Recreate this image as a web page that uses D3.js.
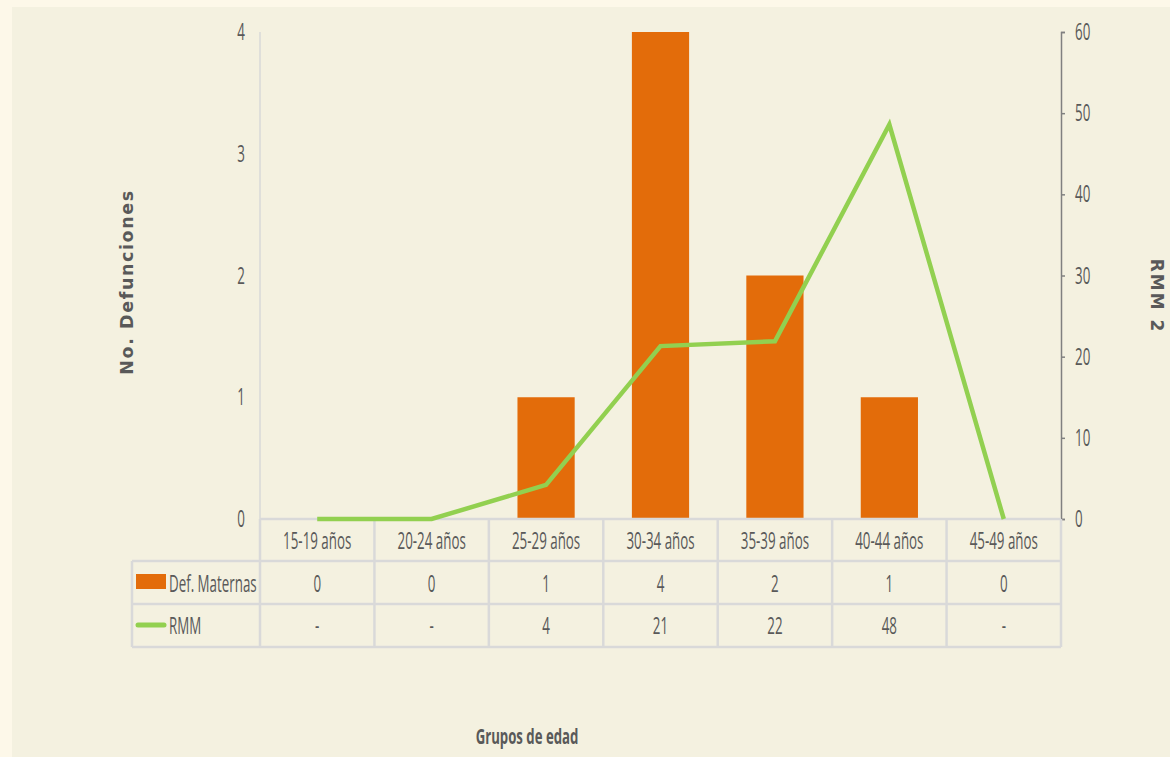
<!DOCTYPE html>
<html>
<head>
<meta charset="utf-8">
<script src="https://cdn.jsdelivr.net/npm/d3@7"></script>
<style>
  html, body { margin: 0; padding: 0; background: #fdf8e9; }
  svg { display: block; }
</style>
</head>
<body>
<svg id="chart" width="1170" height="757"></svg>
<script>
const categories = ["15-19 años", "20-24 años", "25-29 años", "30-34 años", "35-39 años", "40-44 años", "45-49 años"];
const defMaternas = [0, 0, 1, 4, 2, 1, 0];
const rmmValues = [0, 0, 4.2, 21.3, 21.9, 48.6, 0];
const rmmLabels = ["-", "-", "4", "21", "22", "48", "-"];
const leftTicks = [0, 1, 2, 3, 4];
const rightTicks = [0, 10, 20, 30, 40, 50, 60];

const svg = d3.select("#chart");
const W = 1170, H = 757;
const textColor = "#595959";
const gridColor = "#d9d9d9";
const FONT = "'Open Sans', 'Noto Sans', sans-serif";
const SX = 0.58;     // horizontal condensing to mimic a condensed face
const FS = 23;

function ctext(parent, x, y, str, anchor, opts) {
  opts = opts || {};
  const g = parent.append("g").attr("transform", `translate(${x},${y}) scale(${opts.sx || SX},1)`);
  return g.append("text")
    .attr("font-family", FONT)
    .attr("font-size", opts.fs || FS)
    .attr("font-weight", opts.weight || "normal")
    .attr("fill", textColor)
    .attr("text-anchor", anchor || "start")
    .text(str);
}

// inner panel
svg.append("rect").attr("x", 12).attr("y", 7).attr("width", W - 12).attr("height", H - 7).attr("fill", "#f4f1e0");

const plot = { left: 260, right: 1061, top: 32, bottom: 519 };
const x = d3.scaleBand().domain(categories).range([plot.left, plot.right]).paddingInner(0).paddingOuter(0);
const yL = d3.scaleLinear().domain([0, 4]).range([plot.bottom, plot.top]);
const yR = d3.scaleLinear().domain([0, 60]).range([plot.bottom, plot.top]);

// bars
const barW = x.bandwidth() * 0.5;
svg.append("g").selectAll("rect").data(categories).join("rect")
  .attr("x", d => x(d) + (x.bandwidth() - barW) / 2)
  .attr("y", (d, i) => yL(defMaternas[i]))
  .attr("width", barW)
  .attr("height", (d, i) => yL(0) - yL(defMaternas[i]))
  .attr("fill", "#e36c0a");

// left axis line
svg.append("line").attr("x1", plot.left).attr("x2", plot.left).attr("y1", plot.top).attr("y2", plot.bottom)
  .attr("stroke", gridColor).attr("stroke-width", 1.5);

// left axis tick labels
const lg = svg.append("g");
leftTicks.forEach(t => ctext(lg, 245, yL(t) + 8, d3.format("d")(t), "end"));

// right axis
const rAxis = svg.append("g").attr("transform", `translate(${plot.right},0)`)
  .call(d3.axisRight(yR).tickValues(rightTicks).tickFormat("").tickSize(4).tickSizeOuter(4));
rAxis.select(".domain").attr("stroke", "#808080").attr("stroke-width", 1.5);
rAxis.selectAll(".tick line").attr("stroke", "#808080").attr("stroke-width", 1.5);
const rg = svg.append("g");
rightTicks.forEach(t => ctext(rg, 1075, yR(t) + 8, d3.format("d")(t), "start"));

// table grid
const rowTops = [519, 561, 604, 647];
const tableLeft = 132;
const tg = svg.append("g").attr("stroke", gridColor).attr("stroke-width", 2.5);
tg.append("line").attr("x1", plot.left).attr("x2", plot.right).attr("y1", rowTops[0]).attr("y2", rowTops[0]);
[1, 2, 3].forEach(i => tg.append("line").attr("x1", tableLeft).attr("x2", plot.right).attr("y1", rowTops[i]).attr("y2", rowTops[i]));
const bounds = categories.map(c => x(c)).concat([plot.right]);
bounds.forEach(b => tg.append("line").attr("x1", b).attr("x2", b).attr("y1", rowTops[0]).attr("y2", rowTops[3]));
tg.append("line").attr("x1", tableLeft).attr("x2", tableLeft).attr("y1", rowTops[1]).attr("y2", rowTops[3]);

// line (RMM)
const line = d3.line().x((d, i) => x(categories[i]) + x.bandwidth() / 2).y(d => yR(d));
svg.append("path").datum(rmmValues).attr("d", line)
  .attr("fill", "none").attr("stroke", "#92d050").attr("stroke-width", 4.5).attr("stroke-linejoin", "miter");

// table texts
const cx = c => x(c) + x.bandwidth() / 2;
const tt = svg.append("g");
categories.forEach((c, i) => {
  ctext(tt, cx(c), 549, c, "middle");
  ctext(tt, cx(c), 592, String(defMaternas[i]), "middle");
  ctext(tt, cx(c), 634, rmmLabels[i], "middle");
});

// legend inside table
svg.append("rect").attr("x", 136).attr("y", 574).attr("width", 30).attr("height", 15).attr("fill", "#e36c0a");
svg.append("line").attr("x1", 138).attr("x2", 164).attr("y1", 625).attr("y2", 625)
  .attr("stroke", "#92d050").attr("stroke-width", 5).attr("stroke-linecap", "round");
ctext(svg, 169, 592, "Def. Maternas", "start");
ctext(svg, 169, 634, "RMM", "start");

// axis titles
svg.append("text").attr("transform", "translate(133,282) rotate(-90)").attr("text-anchor", "middle")
  .attr("font-family", "DejaVu Sans, Verdana, sans-serif").attr("font-weight", "bold").attr("font-size", 17.5)
  .attr("fill", textColor).attr("letter-spacing", 1.6).text("No. Defunciones");
svg.append("text").attr("transform", "translate(1151,296) rotate(90)").attr("text-anchor", "middle")
  .attr("font-family", "DejaVu Sans, Verdana, sans-serif").attr("font-weight", "bold").attr("font-size", 17)
  .attr("fill", textColor).attr("letter-spacing", 2).text("RMM 2");
ctext(svg, 527, 744, "Grupos de edad", "middle", { weight: "bold", fs: 22, sx: 0.6 });
</script>
</body>
</html>
